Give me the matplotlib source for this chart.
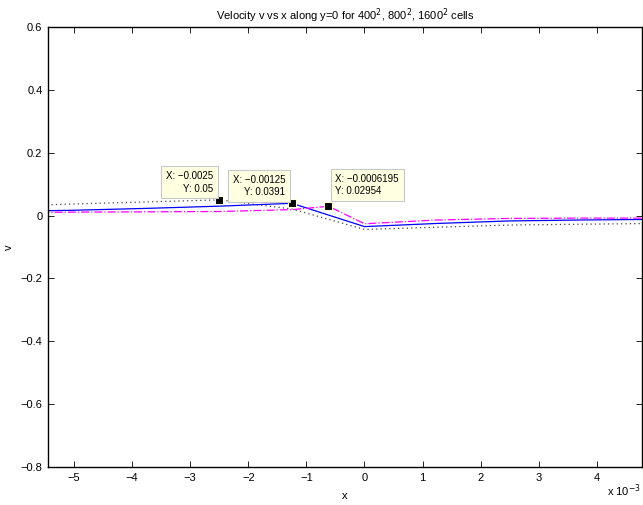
import numpy as np
import matplotlib
matplotlib.use("Agg")
import matplotlib.pyplot as plt
from matplotlib.ticker import FuncFormatter

plt.rcParams['font.family'] = ['Liberation Sans', 'DejaVu Sans']

# 400^2 cells (black dotted)
x_400 = [-7.5e-3, -5.0e-3, -2.5e-3, -1.25e-3, 0.0, 2.5e-3, 5.0e-3]
v_400 = [0.023, 0.037, 0.05, 0.021, -0.044, -0.030, -0.025]
# 800^2 cells (blue solid)
x_800 = [-6.25e-3, -5.0e-3, -3.75e-3, -2.5e-3, -1.25e-3, 0.0, 1.25e-3, 2.5e-3, 3.75e-3, 5.0e-3]
v_800 = [0.013, 0.017, 0.023, 0.030, 0.0391, -0.035, -0.025, -0.017, -0.014, -0.012]
# 1600^2 cells (magenta dash-dot)
x_1600 = [-6.25e-3, -5.0e-3, -3.75e-3, -2.5e-3, -1.25e-3, -0.6195e-3, 0.0, 0.625e-3, 1.25e-3, 2.5e-3, 3.75e-3, 5.0e-3]
v_1600 = [0.009, 0.011, 0.012, 0.013, 0.019, 0.02954, -0.026, -0.020, -0.014, -0.009, -0.008, -0.008]

# data tips
tip_x = [-0.0025, -0.00125, -0.0006195]
tip_y = [0.05, 0.0391, 0.02954]
tip_text = ["X: \u22120.0025\nY: 0.05", "X: \u22120.00125\nY: 0.0391", "X: \u22120.0006195\nY: 0.02954"]
tip_box = [(-3.42e-3, 0.07), (-2.27e-3, 0.058), (-0.50e-3, 0.061)]
tip_align = ["right", "right", "left"]

fig = plt.figure(figsize=(6.43, 5.05), dpi=100)
ax = fig.add_axes([0.0747, 0.0752, 0.9237, 0.8713])

ax.plot(x_400, v_400, color="#444444", linestyle=(0, (1, 2.5)), lw=0.9)
ax.plot(x_800, v_800, color="blue", linestyle="-", lw=0.9)
ax.plot(x_1600, v_1600, color="magenta", linestyle="-.", lw=0.9)

ax.plot(tip_x, tip_y, "s", color="black", markersize=6, markeredgecolor="#ffffe0", markeredgewidth=0.8, zorder=5)
for (bx, by), t, al in zip(tip_box, tip_text, tip_align):
    ax.text(bx, by, t, fontsize=7, ha="left", va="bottom", multialignment=al, linespacing=1.3,
            bbox=dict(boxstyle="square,pad=0.5", fc="#ffffe1", ec="#c8c8c8", lw=0.8), zorder=6)

ax.set_xlim(-5.45e-3, 4.78e-3)
ax.set_ylim(-0.8, 0.6)
ax.set_xticks(np.arange(-5, 5) * 1e-3)
ax.set_yticks(np.arange(-0.8, 0.61, 0.2))
ax.xaxis.set_major_formatter(FuncFormatter(lambda v, p: f"{v * 1e3:.0f}".replace("-", "\u2212")))
ax.yaxis.set_major_formatter(FuncFormatter(lambda v, p: ("0" if abs(v) < 1e-9 else f"{v:.1f}").replace("-", "\u2212")))
ax.tick_params(direction="in", top=True, right=True, length=4, width=0.6, labelsize=8, pad=4)
for s in ax.spines.values():
    s.set_linewidth(1.0)

ax.set_title("Velocity v vs x along y=0 for 400$^2$, 800$^2$, 1600$^2$ cells", fontsize=8, pad=5)
ax.set_xlabel("x", fontsize=8, labelpad=6)
ax.set_ylabel("v", fontsize=8)
ax.yaxis.set_label_coords(-0.058, 0.5)
fig.text(0.997, 0.012, "x 10$^{-3}$", fontsize=8, ha="right", va="bottom")

fig.savefig("out.png", dpi=100)
